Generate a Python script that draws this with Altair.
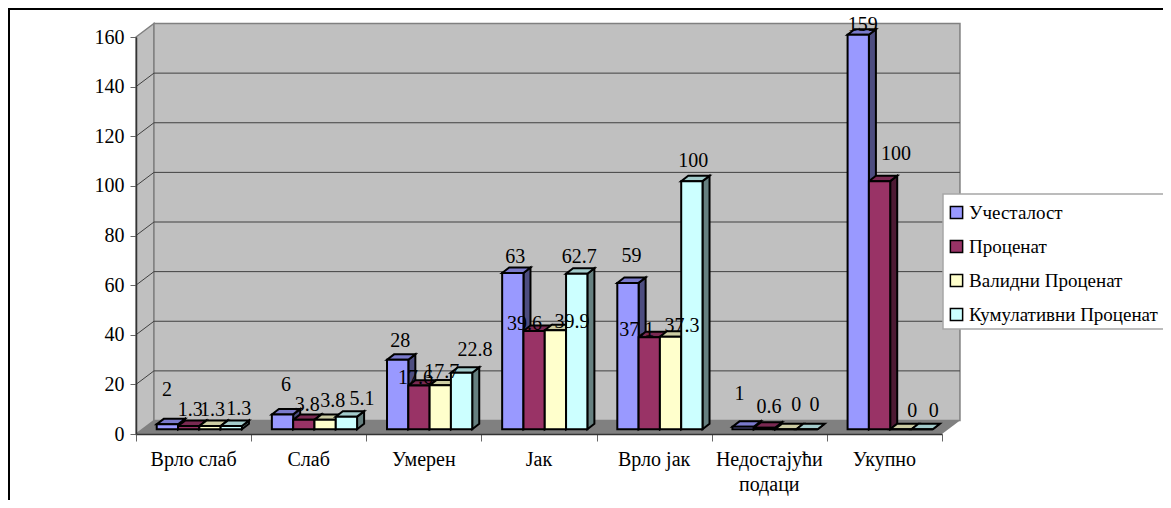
import altair as alt
import pandas as pd

CATEGORIES = ["Врло слаб", "Слаб", "Умерен", "Јак", "Врло јак", "Недостајући\nподаци", "Укупно"]
SERIES = ["Учесталост", "Проценат", "Валидни Проценат", "Кумулативни Проценат"]
FREQ = [2, 6, 28, 63, 59, 1, 159]
PCT = [1.3, 3.8, 17.6, 39.6, 37.1, 0.6, 100]
VALID = [1.3, 3.8, 17.7, 39.9, 37.3, 0, 0]
CUM = [1.3, 5.1, 22.8, 62.7, 100, 0, 0]
VALUES = [FREQ, PCT, VALID, CUM]
Y_TICKS = [0, 20, 40, 60, 80, 100, 120, 140, 160]

# styling
FRONT = ["#9999ff", "#993366", "#ffffcc", "#ccffff"]
TOP = ["#7a7acc", "#7a2952", "#ccccA3", "#a3cccc"]
SIDE = ["#4d4d80", "#4d1a33", "#808066", "#668080"]
FONT = "Liberation Serif"
FS = 20

# layout in scale units: 3-D depth of the box and of the bars
WALL_DX, WALL_DY = 0.156, 5.44
BAR_DX, BAR_DY = 0.061, 2.2
BAR_START, BAR_W = 0.18, 0.185
BASE = 1.9
PX_X = 806 / 7
PX_Y = 397 / 160

# hand placement of the data labels, px from the bar's top centre
NUDGE_X = [[-4, -2, -1, 4], [0, 0, 4, 12], [-1, -7, -2, 10], [-1, -13, 13, -1],
           [0, -16, 8, -2], [-7, 1, 7, 4], [1, 13, 8, 8]]
NUDGE_Y = [[-34, -16, -16, -17], [-29, -15, -19, -18], [-19, -8, -13, -23], [-16, -7, -8, -17],
           [-27, -7, -11, -20], [-33, -21, -24, -24], [-10, -27, -18, -18]]

rows_front, rows_top, rows_side, rows_lab = [], [], [], []
for c, cat in enumerate(CATEGORIES):
    for k, s in enumerate(SERIES):
        v = VALUES[k][c]
        x0 = c + BAR_START + BAR_W * k
        x1 = x0 + BAR_W
        y1 = BASE + v
        bid = f"{c}-{k}"
        rows_front.append(dict(series=s, x=x0, x2=x1, y=BASE, y2=y1))
        rows_top += [dict(series=s, id=bid, y=y1, x=x0, x2=x1),
                     dict(series=s, id=bid, y=y1 + BAR_DY, x=x0 + BAR_DX, x2=x1 + BAR_DX)]
        rows_side += [dict(series=s, id=bid, x=x1, y=BASE, y2=y1),
                      dict(series=s, id=bid, x=x1 + BAR_DX, y=BASE + BAR_DY, y2=y1 + BAR_DY)]
        rows_lab.append(dict(t=str(v),
                             x=(x0 + x1) / 2 + BAR_DX / 2 + NUDGE_X[c][k] / PX_X,
                             y=y1 - NUDGE_Y[c][k] / PX_Y))

X = alt.Scale(domain=[0, 7], range=[0, 806], nice=False, zero=False)
Y = alt.Scale(domain=[0, 160], range=[397, 0], nice=False, zero=False)
AX_X = alt.Axis(values=list(range(8)), labels=False, tickSize=7, tickColor="#666666", tickWidth=1,
                domainColor="#333333", domainWidth=1.5, grid=False, title=None, zindex=1)
AX_Y = alt.Axis(values=Y_TICKS, tickSize=6, tickColor="#666666", tickWidth=1, domainColor="#333333",
                domainWidth=1.5, grid=False, labelFont=FONT, labelFontSize=FS, labelColor="#000000",
                labelPadding=6, title=None, zindex=1)
xq = lambda f="x": alt.X(f"{f}:Q", scale=X, axis=AX_X)
yq = lambda f="y": alt.Y(f"{f}:Q", scale=Y, axis=AX_Y)

side_wall = alt.Chart(pd.DataFrame({"x": [0, WALL_DX], "y": [0, WALL_DY], "y2": [160, 160 + WALL_DY]})).mark_area(
    color="#c0c0c0", stroke="#808080", strokeWidth=1.5
).encode(x=xq(), y=yq(), y2="y2:Q")

back_wall = alt.Chart(pd.DataFrame({"x": [WALL_DX], "x2": [7 + WALL_DX], "y": [WALL_DY], "y2": [160 + WALL_DY]})).mark_rect(
    color="#c0c0c0", stroke="#808080", strokeWidth=1.5
).encode(x=xq(), x2="x2:Q", y=yq(), y2="y2:Q")

floor = alt.Chart(pd.DataFrame({"y": [0, WALL_DY], "x": [0, WALL_DX], "x2": [7, 7 + WALL_DX]})).mark_area(
    orient="horizontal", color="#808080"
).encode(y=yq(), x=xq(), x2="x2:Q")

grid_df = pd.DataFrame({"v": Y_TICKS[1:-1]})
grid_back = alt.Chart(grid_df).transform_calculate(
    y=f"datum.v+{WALL_DY}", x="%f" % WALL_DX, x2="%f" % (7 + WALL_DX)
).mark_rule(color="#404040", strokeWidth=1).encode(x=xq(), x2="x2:Q", y=yq())

grid_side = alt.Chart(grid_df).transform_calculate(
    y="datum.v", y2=f"datum.v+{WALL_DY}", x="0", x2="%f" % WALL_DX
).mark_rule(color="#404040", strokeWidth=1).encode(x=xq(), x2="x2:Q", y=yq(), y2="y2:Q")

color = lambda rng: alt.Color("series:N", scale=alt.Scale(domain=SERIES, range=rng), legend=None)

sides = alt.Chart(pd.DataFrame(rows_side)).mark_area(stroke="#000000", strokeWidth=2).encode(
    x=xq(), y=yq(), y2="y2:Q", detail="id:N", color=color(SIDE))
tops = alt.Chart(pd.DataFrame(rows_top)).mark_area(orient="horizontal", stroke="#000000", strokeWidth=2).encode(
    y=yq(), x=xq(), x2="x2:Q", detail="id:N", color=color(TOP))

legend_box = alt.Chart(pd.DataFrame({"a": [0]})).mark_rect(
    fill="#ffffff", stroke="#a6a6a6", strokeWidth=1.5
).encode(x=alt.value(807), x2=alt.value(1100), y=alt.value(157), y2=alt.value(292))

fronts = alt.Chart(pd.DataFrame(rows_front)).mark_rect(stroke="#000000", strokeWidth=2).encode(
    x=xq(), x2="x2:Q", y=yq(), y2="y2:Q",
    color=alt.Color("series:N", scale=alt.Scale(domain=SERIES, range=FRONT), legend=alt.Legend(
        title=None, orient="none", legendX=811, legendY=166, symbolType="square", symbolSize=150,
        symbolStrokeColor="#000000", symbolStrokeWidth=1.5, labelFont=FONT, labelFontSize=19,
        labelColor="#000000", rowPadding=14, labelOffset=3, padding=0, labelLimit=400)),
)

labels = alt.Chart(pd.DataFrame(rows_lab)).mark_text(font=FONT, fontSize=FS, color="#000000", baseline="middle").encode(
    x=xq(), y=yq(), text="t:N")

cat_df = pd.DataFrame({"c": CATEGORIES, "x": [i + 0.5 for i in range(7)], "y": [-6.5] * 7})
cats = alt.Chart(cat_df).mark_text(
    font=FONT, fontSize=FS, color="#000000", baseline="top", lineBreak="\n", lineHeight=25
).encode(x=xq(), y=yq(), text="c:N")

frame_l = alt.Chart(pd.DataFrame({"a": [0]})).mark_rule(color="#000000", strokeWidth=2).encode(
    x=alt.value(-127), y=alt.value(-29), y2=alt.value(471))
frame_t = alt.Chart(pd.DataFrame({"a": [0]})).mark_rule(color="#000000", strokeWidth=2).encode(
    y=alt.value(-28), x=alt.value(-128), x2=alt.value(1035))

chart = alt.layer(
    frame_l, frame_t, side_wall, back_wall, floor, grid_side, grid_back,
    sides, tops, legend_box, fronts, labels, cats
).resolve_scale(color="independent").properties(
    width=806, height=397,
    padding={"left": 128, "top": 29, "right": 221, "bottom": 66},
    autosize="none", background="#ffffff",
).configure_view(stroke=None)

chart.save("out.html", embed_options={"renderer": "svg", "actions": False})
